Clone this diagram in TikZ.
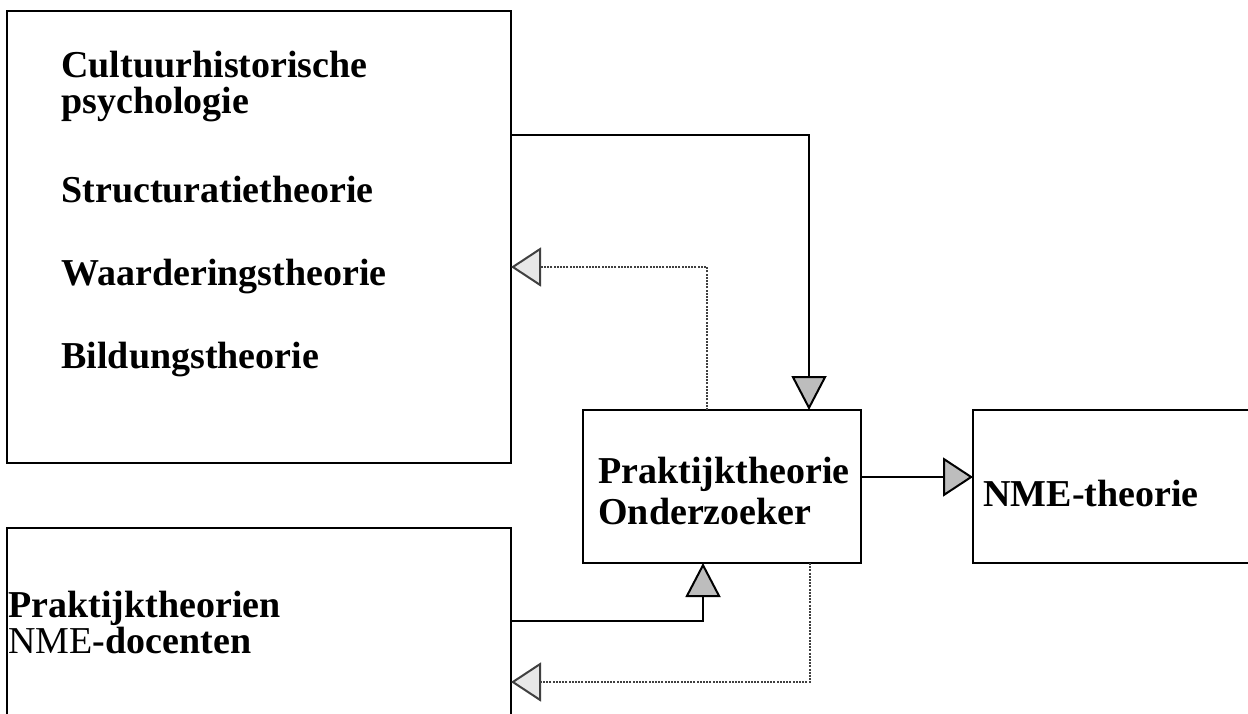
\documentclass[tikz,border=0pt]{standalone}
\usepackage{fontspec}
\setmainfont{Liberation Serif}
\usetikzlibrary{arrows.meta}
\definecolor{tipdark}{HTML}{BDBDBD}
\definecolor{tiplight}{HTML}{E8E8E8}
\begin{document}
\begin{tikzpicture}[x=0.5pt,y=-0.5pt,
  frame/.style={draw=black,line width=1pt,inner sep=0pt,outer sep=0pt,anchor=north west},
  label/.style={anchor=base west,inner sep=0pt,align=left,font=\fontsize{19}{18}\selectfont\bfseries},
  flow/.style={draw=black,line width=0.9pt},
  feedback/.style={draw=black!75,line width=0.7pt,dash pattern=on 1pt off 0.6pt},
  tipv/.style={-{Triangle[length=17pt,width=17.5pt,line width=1pt,fill=tipdark]}},
  tiph/.style={-{Triangle[length=15pt,width=19.5pt,line width=1pt,fill=tipdark]}},
  tipback/.style={-{Triangle[length=15pt,width=19.5pt,line width=1pt,fill=tiplight]}}]
\path[use as bounding box,clip] (0,0) rectangle (1248,713);

% boxes
\node[frame,minimum width=252pt,minimum height=226pt] (theory) at (7,11) {};
\node[frame,minimum width=252pt,minimum height=136pt] (teachers) at (7,528) {};
\node[frame,minimum width=139pt,minimum height=76.5pt] (researcher) at (583,410) {};
\node[frame,minimum width=163.5pt,minimum height=76.5pt] (nme) at (973,410) {};

% texts (base anchor = baseline of the last line)
\node[label] (t1) at (61,113) {Cultuurhistorische\\psychologie};
\node[label] (t3) at (61,202) {Structuratietheorie};
\node[label] (t4) at (61,285) {Waarderingstheorie};
\node[label] (t5) at (61,368) {Bildungstheorie};
\node[label,font=\fontsize{19}{20.5}\selectfont\bfseries] (r1) at (598,524) {Praktijktheorie\\Onderzoeker};
\node[label] (n1) at (983,506) {NME-theorie};
\node[label] (d1) at (8,653) {Praktijktheorien\\{\mdseries NME}-docenten};

% connectors
\draw[flow,tipv] (theory.east |- 0,135) -| (researcher.north -| 809,0);
\draw[feedback,tipback] (researcher.north -| 707,0) |- (theory.east |- 0,267);
\draw[flow,tipv] (teachers.east |- 0,621) -| (researcher.south -| 703,0);
\draw[feedback,tipback] (researcher.south -| 810,0) |- (teachers.east |- 0,682);
\draw[flow,tiph] (researcher.east |- 0,477) -- (nme.west |- 0,477);
\end{tikzpicture}
\end{document}
